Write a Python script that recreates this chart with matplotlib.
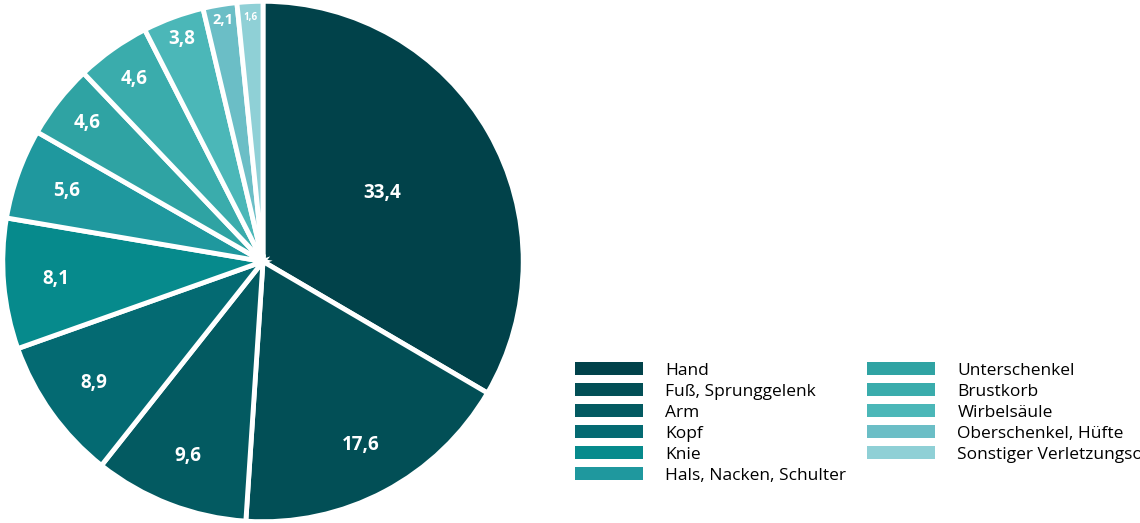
import matplotlib
matplotlib.use("Agg")
import matplotlib.pyplot as plt
import numpy as np
from matplotlib.patches import Patch

categories = ["Hand", "Fuß, Sprunggelenk", "Arm", "Kopf", "Knie", "Hals, Nacken, Schulter",
              "Unterschenkel", "Brustkorb", "Wirbelsäule", "Oberschenkel, Hüfte", "Sonstiger Verletzungsort"]
values = [33.4, 17.6, 9.6, 8.9, 8.1, 5.6, 4.6, 4.6, 3.8, 2.1, 1.6]
labels = ["33,4", "17,6", "9,6", "8,9", "8,1", "5,6", "4,6", "4,6", "3,8", "2,1", "1,6"]
colors = ["#01424a", "#024f56", "#035a61", "#046a72", "#068a8c", "#1f989e",
          "#2fa3a3", "#3aacac", "#4bb7b8", "#6bbec6", "#8fd0d6"]

plt.rcParams['font.family'] = ['Open Sans', 'DejaVu Sans']
fig = plt.figure(figsize=(11.4, 5.23), dpi=100)
ax = fig.add_axes([0, 0, 526/1140, 1])
wedges, _ = ax.pie(values, colors=colors, startangle=90, counterclock=False,
                   wedgeprops=dict(edgecolor="white", linewidth=3.5), radius=1)
ax.set_aspect("equal")
ax.set_xlim(-1.005, 1.005); ax.set_ylim(-1.005, 1.005)
total = sum(values)
cum = 0
for i, (v, lab) in enumerate(zip(values, labels)):
    mid = 90 - (cum + v / 2) / total * 360
    cum += v
    if i == 0:
        r = 0.53
    elif v > 5:
        r = 0.8
    elif v > 4:
        r = 0.86
    elif v > 3:
        r = 0.91
    else:
        r = 0.94
    fs = 13.5 if v > 3 else (10.5 if v > 2 else 7)
    ax.text(r * np.cos(np.radians(mid)), r * np.sin(np.radians(mid)), lab,
            color="white", fontsize=fs, fontweight="bold", ha="center", va="center")

handles = [Patch(facecolor=c, edgecolor="none") for c in colors]
fig.legend(handles, categories, loc="upper left", bbox_to_anchor=(568/1140, 1 - 355/523),
           ncol=2, frameon=False, fontsize=12.5, handlelength=3.9, handleheight=0.8,
           labelspacing=0.25, columnspacing=1.2, handletextpad=1.3, borderaxespad=0)
fig.savefig("out.png", dpi=100)
